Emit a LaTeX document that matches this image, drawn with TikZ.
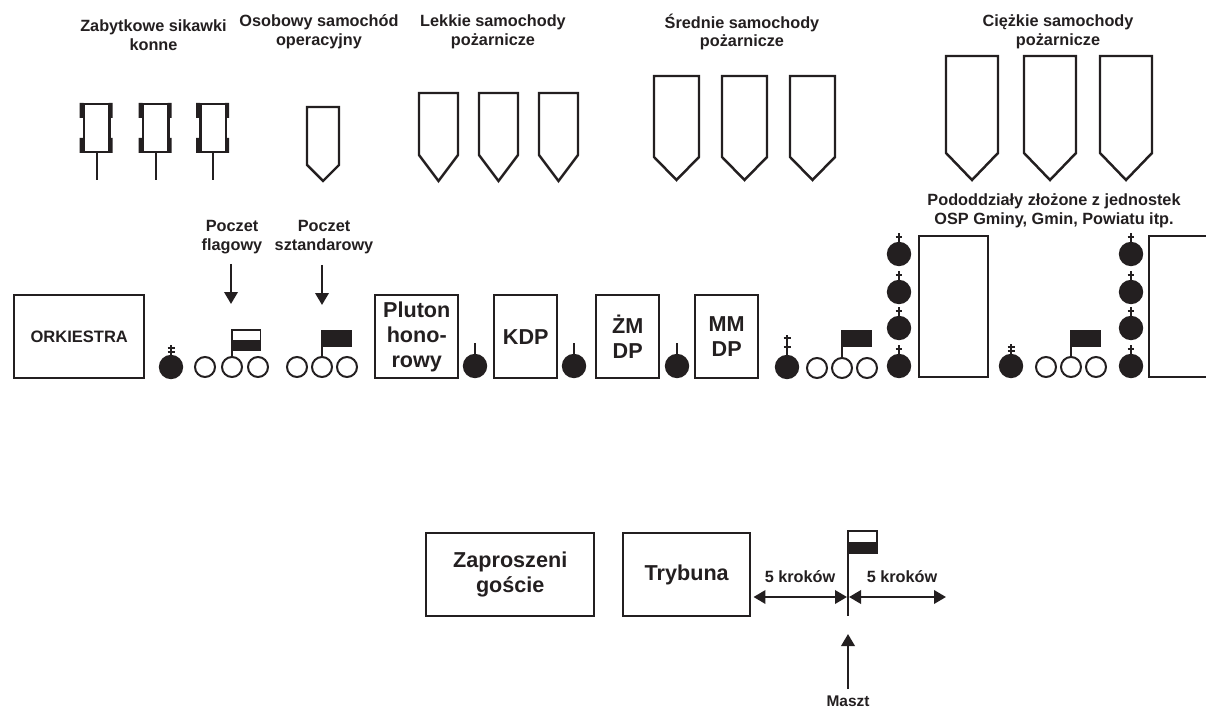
\documentclass[tikz,border=0pt]{standalone}
\usepackage{fontspec}
\setmainfont{Liberation Sans}
\usetikzlibrary{arrows.meta}
\definecolor{ink}{RGB}{35,31,32}
\tikzset{
 line/.style={draw=ink,line width=1.85pt},
 boxnode/.style={line,anchor=north west,inner sep=0pt,align=center,font=\bfseries\fontsize{16.2}{18.7}\selectfont,text=ink},
 title/.style={align=center,font=\bfseries\fontsize{12.2}{14}\selectfont,text=ink,inner sep=0pt},
 arrowline/.style={draw=ink,line width=1.9pt,-{Triangle[length=9pt,width=10pt]}},
 twoway/.style={draw=ink,line width=1.9pt,{Triangle[length=9pt,width=10pt]}-{Triangle[length=9pt,width=10pt]}},
}
% vehicle outline: x1 x2 top shoulder tip
\newcommand{\wozik}[5]{\draw[line,line join=miter] (#1,#3) -- (#2,#3) -- (#2,#4) -- ({(#1+#2)/2},#5) -- (#1,#4) -- cycle;}
% horse-drawn pump: x-left of body
\newcommand{\sikawka}[1]{%
 \draw[line] (#1,104) rectangle ++(25.5,48);
 \draw[draw=ink,line width=1.5pt] ({#1+12.5},152) -- ({#1+12.5},180);
 \fill[ink] ({#1-4.5},103) rectangle ({#1-.5},118) ({#1+24.5},103) rectangle ({#1+28.5},118)
            ({#1-4.5},138) rectangle ({#1-.5},153) ({#1+24.5},138) rectangle ({#1+28.5},153);}
\newcommand{\kula}[2]{\fill[ink] (#1,#2) circle (12.2);}
\newcommand{\slupek}[2]{\kula{#1}{#2}\draw[ink,line width=1.3pt] (#1,#2) -- ++(0,-23);}
\newcommand{\krzyz}[2]{\kula{#1}{#2}\draw[ink,line width=1.7pt] (#1,{#2-8}) -- ++(0,-13) ({#1-3.3},{#2-17}) -- ++(6.6,0);}
\newcommand{\dwukrzyz}[2]{\kula{#1}{#2}\draw[ink,line width=1.7pt] (#1,{#2-8}) -- ++(0,-14) ({#1-3.5},{#2-19}) -- ++(7,0) ({#1-3.5},{#2-15}) -- ++(7,0);}
\newcommand{\wysoki}[2]{\kula{#1}{#2}\draw[ink,line width=1.7pt] (#1,{#2-8}) -- ++(0,-24) ({#1-3.5},{#2-29}) -- ++(7,0) ({#1-3.5},{#2-20}) -- ++(7,0);}
\newcommand{\trzy}[4]{\foreach \cx in {#1,#2,#3} \draw[draw=ink,line width=1.5pt] (\cx,#4) circle (10);}
\newcommand{\flagaciemna}[1]{\draw[draw=ink,line width=1.2pt] (#1,357) -- (#1,330); \fill[ink] (#1,330) rectangle ({#1+30},347.3);}
\begin{document}
\begin{tikzpicture}[x=0.75pt,y=-0.75pt]
\useasboundingbox (0,0) rectangle (1206,709);
% titles
\node[title] (t1) at (153.5,35) {Zabytkowe sikawki\\konne};
\node[title] (t2) at (319,32) {Osobowy samochód\\operacyjny};
\node[title] (t3) at (493,32) {Lekkie samochody\\pożarnicze};
\node[title] (t4) at (742,32) {Średnie samochody\\pożarnicze};
\node[title] (t5) at (1058,32) {Ciężkie samochody\\pożarnicze};
% vehicles
\sikawka{84}\sikawka{143}\sikawka{200.5}
\wozik{307}{339}{107}{165}{181}
\wozik{419}{458}{93}{155}{181}
\wozik{479}{518}{93}{155}{181}
\wozik{539}{578}{93}{155}{181}
\wozik{654}{699}{76}{157}{180}
\wozik{722}{767}{76}{157}{180}
\wozik{790}{835}{76}{157}{180}
\wozik{946}{998}{56}{153}{180}
\wozik{1024}{1076}{56}{153}{180}
\wozik{1100}{1152}{56}{153}{180}
% row labels
\node[title] (pf) at (232,237) {Poczet\\flagowy};
\node[title] (ps) at (324,237) {Poczet\\sztandarowy};
\node[title] (po) at (1054,211) {Pododdziały złożone z jednostek\\OSP Gminy, Gmin, Powiatu itp.};
% row boxes
\node[boxnode,minimum width=130*0.75pt,minimum height=83*0.75pt,font=\bfseries\fontsize{12.4}{14}\selectfont] (ork) at (13,294) {ORKIESTRA};
\node[boxnode,minimum width=83*0.75pt,minimum height=83*0.75pt] (plu) at (374,294) {Pluton\\hono-\\rowy};
\node[boxnode,minimum width=63*0.75pt,minimum height=83*0.75pt] (kdp) at (493,294) {KDP};
\node[boxnode,minimum width=63*0.75pt,minimum height=83*0.75pt] (zm) at (595,294) {ŻM\\DP};
\node[boxnode,minimum width=63*0.75pt,minimum height=83*0.75pt] (mm) at (694,294) {MM\\DP};
\node[boxnode,minimum width=69*0.75pt,minimum height=141*0.75pt] (u1) at (918,235) {};
\node[boxnode,minimum width=70*0.75pt,minimum height=141*0.75pt] (u2) at (1148,235) {};
% persons
\dwukrzyz{171}{367}
\trzy{205}{232}{258}{367}
\draw[draw=ink,line width=1.2pt] (232,357) -- (232,330);
\draw[draw=ink,line width=1.4pt] (232,330) rectangle (260.5,350);
\fill[ink] (232,340) rectangle (260.5,350);
\trzy{297}{322}{347}{367}
\flagaciemna{322}
\slupek{475}{366}\slupek{574}{366}\slupek{677}{366}
\wysoki{787}{367}
\trzy{817}{842}{867}{368}
\flagaciemna{842}
\foreach \yy in {254,292,328,366} {\krzyz{899}{\yy}\krzyz{1131}{\yy}}
\dwukrzyz{1011}{366}
\trzy{1046}{1071}{1096}{367}
\flagaciemna{1071}
% arrows
\coordinate (a1) at (231,264); \coordinate (a2) at (231,304);
\coordinate (b1) at (322,265); \coordinate (b2) at (322,305);
\draw[arrowline] (a1) -- (a2);
\draw[arrowline] (b1) -- (b2);
% bottom
\node[boxnode,minimum width=168*0.75pt,minimum height=83*0.75pt] (gos) at (425,532) {Zaproszeni\\goście};
\node[boxnode,minimum width=127*0.75pt,minimum height=83*0.75pt] (try) at (622,532) {Trybuna};
\coordinate (mt) at (848,530); \coordinate (mb) at (848,616);
\draw[draw=ink,line width=1.5pt] (mt) -- (mb);
\draw[draw=ink,line width=1.5pt] (848,531) rectangle (877,552.5);
\fill[ink] (848,542) rectangle (877,552.5);
\coordinate (l) at (848,597); \coordinate (r) at (946,597);
\draw[twoway] (try.east|-l) ++(2,0) -- (847,597);
\draw[twoway] (849,597) -- (r);
\node[title] (k1) at (800,577) {5 kroków};
\node[title] (k2) at (902,577) {5 kroków};
\node[title,font=\bfseries\fontsize{11.6}{14}\selectfont] (ma) at (848,701) {Maszt};
\coordinate (mu) at (848,689);
\draw[arrowline] (mu) -- (848,634);
\end{tikzpicture}
\end{document}
